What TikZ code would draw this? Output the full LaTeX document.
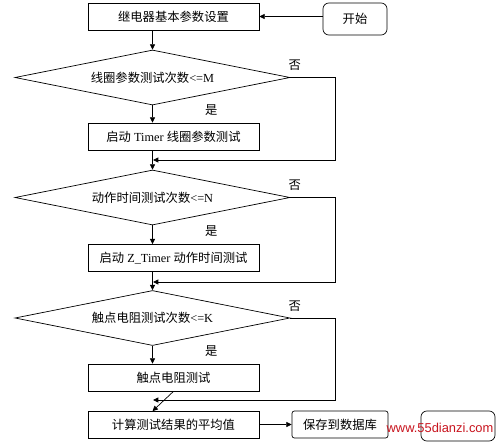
\documentclass[tikz,border=0pt]{standalone}
\usepackage{fontspec}
\setmainfont{Liberation Serif}
\newfontfamily\cjk{Noto Sans CJK SC}
\newfontfamily\wmfont{Liberation Sans}
\usepackage{xcolor}
\usetikzlibrary{positioning, arrows.meta, shapes.geometric}
\definecolor{wmRed}{RGB}{200,20,30}

\begin{document}
\begin{tikzpicture}[
    x=0.03cm, y=-0.03cm,
    line width=0.6pt,
    block/.style={rectangle, draw=black, minimum width=5.13cm, minimum height=0.81cm, inner sep=0pt, font=\fontsize{10.5}{12}\selectfont},
    term/.style={rectangle, draw=black, rounded corners=5pt, inner sep=0pt, font=\fontsize{10.5}{12}\selectfont},
    decision/.style={diamond, aspect=5, draw=black, minimum width=8.25cm, minimum height=1.65cm, inner sep=0pt, font=\fontsize{10.5}{12}\selectfont},
    arrow/.style={-{Triangle[length=1.6mm, width=1.5mm]}},
    yesno/.style={font=\cjk\fontsize{10.5}{12}\selectfont}
]
\useasboundingbox (0,0) rectangle (500,442);

% Nodes
\node[block] (setup) at (173.5,16.5) {\cjk 继电器基本参数设置};
\node[term, minimum width=1.92cm, minimum height=0.96cm] (start) at (355,19) {\cjk 开始};
\node[decision] (coilchk) at (152.5,77.5) {{\cjk 线圈参数测试次数}<=M};
\node[block] (coiltest) at (173.5,136.5) {{\cjk 启动} Timer {\cjk 线圈参数测试}};
\node[decision] (actchk) at (152.5,197.5) {{\cjk 动作时间测试次数}<=N};
\node[block] (acttest) at (173.5,258) {{\cjk 启动} Z\_Timer {\cjk 动作时间测试}};
\node[decision] (reschk) at (152.5,318) {{\cjk 触点电阻测试次数}<=K};
\node[block] (restest) at (173.5,377.5) {\cjk 触点电阻测试};
\node[block] (avg) at (173.5,425) {\cjk 计算测试结果的平均值};
\node[term, rounded corners=2pt, minimum width=2.88cm, minimum height=0.81cm] (save) at (340,424.5) {\cjk 保存到数据库};
\node[term, minimum width=2.22cm, minimum height=0.9cm] (stop) at (458,426) {};

% Merge points
\coordinate (m1) at (153,160);
\coordinate (m2) at (153,282);
\coordinate (m3) at (153,400);

% Arrows
\draw[arrow] (start.west |- setup.east) -- (setup.east);
\draw[arrow] (setup.south -| coilchk.north) -- (coilchk.north);
\draw[arrow] (coilchk.south) -- node[yesno, pos=0.3, right=1.45cm] {是} (coiltest.north -| coilchk.south);
\draw[arrow] (coiltest.south -| actchk.north) -- (actchk.north);
\draw[arrow] (actchk.south) -- node[yesno, pos=0.3, right=1.45cm] {是} (acttest.north -| actchk.south);
\draw[arrow] (acttest.south -| reschk.north) -- (reschk.north);
\draw[arrow] (reschk.south) -- node[yesno, pos=0.3, right=1.45cm] {是} (restest.north -| reschk.south);
\draw[arrow] (restest.south -| avg.north) -- (avg.north -| reschk.south);
\draw[arrow] (avg.east |- save.west) -- (save.west);

% Loops back
\draw[arrow] (coilchk.east) -- node[above, yesno, pos=0.1, yshift=2pt] {否} +(45,0) |- (m1);
\draw[arrow] (actchk.east) -- node[above, yesno, pos=0.1, yshift=2pt] {否} +(45,0) |- (m2);
\draw[arrow] (reschk.east) -- node[above, yesno, pos=0.1, yshift=2pt] {否} +(45,0) |- (m3);

% Watermark
\node[text=wmRed, font=\wmfont\fontsize{11}{12}\selectfont, inner sep=0pt] (wm) at (440,428) {www.55dianzi.com};
\end{tikzpicture}
\end{document}
